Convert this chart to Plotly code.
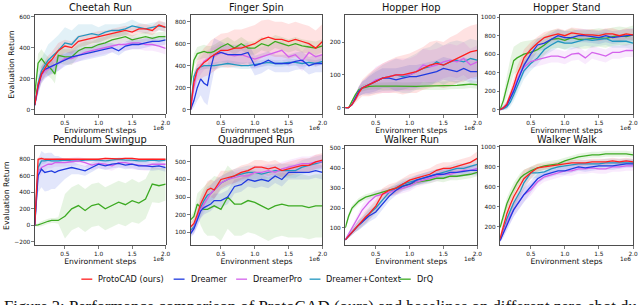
import plotly.graph_objects as go

# ---------------- data ----------------
steps = [0.05, 0.1, 0.15, 0.2, 0.25, 0.3, 0.35, 0.4, 0.5, 0.6, 0.7, 0.8, 0.9, 1.0,
         1.1, 1.2, 1.3, 1.4, 1.5, 1.6, 1.7, 1.8, 1.9, 2.0]
x_ticks = [0.5, 1.0, 1.5, 2.0]
x_tick_labels = ["0.5", "1.0", "1.5", "2.0"]

methods = ["ProtoCAD (ours)", "Dreamer", "DreamerPro", "Dreamer+Context", "DrQ"]
task_names = ["Cheetah Run", "Finger Spin", "Hopper Hop", "Hopper Stand",
              "Pendulum Swingup", "Quadruped Run", "Walker Run", "Walker Walk"]

# Cheetah Run
cheetah_protocad = [30,160,230,270,300,320,350,380,410,400,440,450,460,470,480,490,500,510,500,520,520,510,545,530]
cheetah_dreamer = [30,150,230,260,270,280,290,300,320,340,350,360,370,380,390,400,380,410,420,420,430,440,440,450]
cheetah_dreamerpro = [30,140,220,250,265,280,290,300,330,330,350,370,380,390,400,410,420,420,430,430,420,420,410,395]
cheetah_context = [30,170,250,290,320,340,360,380,430,420,470,480,490,480,500,510,510,520,540,530,520,530,540,530]
cheetah_drq = [100,300,330,300,280,260,230,350,340,340,380,400,400,420,430,450,460,470,450,460,470,460,470,470]
cheetah_protocad_sd = [10,40,50,50,50,50,50,50,40,40,40,35,35,35,30,30,30,30,30,30,30,30,30,30]
cheetah_dreamer_sd = [10,40,50,50,50,50,50,50,40,40,40,40,40,40,40,30,30,30,30,30,30,30,30,30]
cheetah_dreamerpro_sd = [10,40,50,50,50,50,50,50,40,40,40,40,40,40,40,40,40,40,40,40,40,40,40,40]
cheetah_context_sd = [10,60,80,90,100,100,100,100,100,90,80,70,60,50,50,40,40,40,40,30,30,30,30,30]
cheetah_drq_sd = [30,60,60,60,60,60,60,50,50,50,40,40,40,40,40,40,40,30,30,30,30,30,30,30]

# Finger Spin
finger_protocad = [0,250,360,400,430,450,480,500,540,540,560,560,580,600,640,660,640,640,620,640,620,600,560,620]
finger_dreamer = [0,80,200,280,240,220,380,500,520,500,500,500,520,400,420,450,420,420,420,440,450,400,420,420]
finger_dreamerpro = [0,200,350,400,440,460,480,490,520,500,490,500,480,460,480,500,520,540,480,500,440,520,480,500]
finger_context = [0,300,370,390,400,400,400,400,410,420,410,400,400,410,420,430,420,420,430,430,420,430,420,440]
finger_drq = [220,450,510,520,530,520,520,530,570,600,560,600,560,560,600,580,620,600,580,600,580,570,560,580]
finger_protocad_sd = [10,80,100,120,130,140,150,150,150,160,170,170,170,170,170,160,160,160,160,160,160,160,160,160]
finger_dreamer_sd = [10,60,120,150,170,180,180,150,100,90,90,90,90,90,90,80,80,80,80,80,80,80,80,80]
finger_dreamerpro_sd = [10,60,80,80,80,80,80,80,80,80,80,80,90,90,90,90,90,90,90,90,90,90,90,90]
finger_context_sd = [10,40,40,30,30,30,30,30,30,30,30,30,30,30,30,30,30,30,30,30,30,30,30,30]
finger_drq_sd = [40,60,60,60,60,60,60,60,60,60,60,60,60,60,60,60,60,60,60,60,60,60,60,60]

# Hopper Hop
hop_protocad = [0,0,10,25,45,60,65,70,80,90,95,100,100,105,110,120,130,135,130,140,150,160,170,175]
hop_dreamer = [0,0,10,30,50,60,65,70,80,90,90,85,90,95,95,100,105,110,120,115,110,120,110,110]
hop_dreamerpro = [0,0,10,30,50,60,65,70,85,90,95,100,100,100,110,130,125,130,140,145,140,150,130,140]
hop_context = [0,0,10,30,50,60,65,70,80,90,95,100,95,100,110,120,125,140,130,140,145,140,150,145]
hop_drq = [0,0,20,40,55,60,62,65,66,65,66,66,65,66,65,66,66,67,66,68,68,70,72,70]
hop_protocad_sd = [0,0,5,10,20,25,30,35,40,45,50,55,60,60,65,65,70,70,70,75,75,80,80,80]
hop_dreamer_sd = [0,0,5,10,15,20,20,25,30,30,30,35,35,35,35,35,35,35,35,35,35,35,35,35]
hop_dreamerpro_sd = [0,0,5,10,15,20,25,30,40,45,50,50,50,50,50,50,50,50,50,50,50,50,50,50]
hop_context_sd = [0,0,5,10,15,20,25,30,35,40,45,50,50,55,55,60,60,60,60,60,60,60,60,60]
hop_drq_sd = [0,0,5,5,8,10,10,10,10,12,12,12,12,12,12,12,12,12,12,12,12,12,12,12]

# Hopper Stand
stand_protocad = [0,20,60,150,260,380,460,560,650,720,780,800,820,800,830,820,810,810,800,820,820,800,820,810]
stand_dreamer = [0,20,50,120,200,300,400,480,600,700,720,760,800,780,780,800,800,790,780,800,780,790,800,810]
stand_dreamerpro = [0,20,60,140,220,320,400,460,520,540,560,580,580,560,600,610,560,620,600,580,620,620,640,640]
stand_context = [0,10,30,80,160,250,350,420,500,560,650,700,740,720,720,740,760,750,760,770,740,740,740,720]
stand_drq = [0,100,250,400,530,560,580,600,620,650,700,760,770,750,780,760,760,770,780,770,790,800,790,810]
stand_protocad_sd = [10,20,40,60,80,90,90,90,80,70,60,60,60,60,60,60,60,60,60,60,60,60,60,60]
stand_dreamer_sd = [10,20,40,60,80,90,90,90,80,70,70,70,70,70,70,70,70,70,70,70,70,70,70,70]
stand_dreamerpro_sd = [10,20,40,60,70,70,70,70,70,70,70,70,70,70,70,70,70,70,70,70,70,70,70,70]
stand_context_sd = [10,15,30,50,70,80,90,90,80,70,70,70,70,70,70,70,70,70,70,70,70,70,70,70]
stand_drq_sd = [10,60,120,150,150,150,150,140,130,120,110,100,100,100,100,100,100,100,100,100,100,100,100,100]

# Pendulum Swingup
pend_protocad = [0,800,810,800,800,800,805,805,805,800,800,800,800,800,810,805,805,810,810,800,800,800,800,800]
pend_dreamer = [0,600,680,640,650,660,640,660,680,700,680,660,700,740,720,740,750,730,740,720,720,710,720,700]
pend_dreamerpro = [0,650,700,720,740,740,760,760,760,770,780,760,730,750,740,720,760,760,740,730,720,740,740,740]
pend_context = [0,700,780,780,790,780,780,780,790,780,780,790,790,790,780,790,800,790,790,780,780,790,780,790]
pend_drq = [0,5,20,40,50,60,60,60,110,200,240,180,240,260,200,240,280,250,300,270,320,500,480,500]
pend_protocad_sd = [10,20,15,15,10,10,10,10,10,10,10,10,10,10,10,10,10,10,10,10,10,10,10,10]
pend_dreamer_sd = [10,200,220,230,230,220,200,180,120,80,60,60,60,50,50,50,50,50,50,50,50,50,50,50]
pend_dreamerpro_sd = [10,100,80,60,50,50,50,50,50,50,50,50,60,60,60,60,60,60,60,60,60,60,60,60]
pend_context_sd = [10,60,40,30,20,20,20,20,20,20,20,20,20,20,20,20,20,20,20,20,20,20,20,20]
pend_drq_sd = [10,20,30,30,30,30,30,40,270,260,260,260,260,260,260,260,260,260,260,250,240,220,210,200]

# Quadruped Run
quad_protocad = [130,150,200,260,300,340,350,340,400,410,420,440,450,470,470,460,470,450,460,470,480,480,500,510]
quad_dreamer = [90,120,170,220,240,250,260,280,280,300,360,370,400,390,400,390,420,400,440,440,440,440,450,440]
quad_dreamerpro = [100,120,180,230,260,290,320,340,380,400,410,420,420,440,440,450,440,460,470,480,490,490,500,500]
quad_context = [110,130,180,240,280,310,320,340,380,400,420,430,440,440,430,440,450,450,450,450,470,480,490,500]
quad_drq = [170,190,260,240,230,230,240,250,230,300,260,260,280,270,250,230,250,260,250,250,250,240,250,250]
quad_protocad_sd = [20,30,40,50,50,50,50,50,50,40,40,40,40,40,40,40,40,40,40,40,40,40,40,40]
quad_dreamer_sd = [20,30,40,40,40,40,40,40,40,40,40,40,40,40,40,40,40,40,40,40,40,40,40,40]
quad_dreamerpro_sd = [20,30,40,50,50,50,50,50,40,40,40,40,40,40,40,40,40,40,40,40,40,40,40,40]
quad_context_sd = [20,30,40,50,50,50,50,50,40,40,40,40,40,40,40,40,40,40,40,40,40,40,40,40]
quad_drq_sd = [20,30,60,100,130,150,160,170,180,180,180,180,180,180,180,180,180,180,180,180,180,180,180,180]

# Walker Run
wrun_protocad = [40,60,80,100,120,140,155,170,210,270,290,300,320,340,350,360,370,390,400,400,410,420,430,450]
wrun_dreamer = [40,60,80,100,115,130,145,160,180,220,260,290,310,320,340,350,360,370,370,380,380,385,390,390]
wrun_dreamerpro = [40,70,100,130,160,190,210,230,260,270,280,290,300,310,330,340,350,360,370,370,380,390,390,400]
wrun_context = [40,60,80,100,115,130,150,170,200,240,280,300,320,330,340,350,360,370,380,390,400,400,410,420]
wrun_drq = [100,160,200,220,235,245,255,260,270,280,290,300,310,320,330,335,340,350,350,360,360,365,370,380]
wrun_protocad_sd = [5,10,15,20,25,25,30,30,30,30,30,30,30,30,30,30,30,30,30,30,30,30,30,35]
wrun_dreamer_sd = [5,10,15,20,25,25,30,30,30,25,25,25,25,25,25,25,25,25,25,25,25,25,25,25]
wrun_dreamerpro_sd = [5,10,15,20,25,25,30,30,30,25,25,25,25,25,25,25,25,25,25,25,25,25,25,25]
wrun_context_sd = [5,10,15,20,25,25,30,30,30,25,25,25,25,25,25,25,25,25,25,25,25,25,25,25]
wrun_drq_sd = [10,15,15,15,15,15,15,15,15,15,15,15,15,15,15,15,15,15,20,20,20,20,20,20]

# Walker Walk
wwalk_protocad = [80,220,330,420,500,560,620,680,740,790,800,810,820,830,840,840,840,850,850,850,860,850,860,850]
wwalk_dreamer = [60,140,220,300,370,420,470,520,600,680,720,740,760,760,780,800,790,800,810,810,810,820,830,830]
wwalk_dreamerpro = [60,160,240,310,370,420,470,520,570,650,700,720,740,760,760,780,780,790,780,780,800,800,810,810]
wwalk_context = [60,180,280,360,440,500,560,640,740,740,750,780,800,810,820,830,830,830,830,840,840,840,840,840]
wwalk_drq = [190,320,430,510,580,640,690,720,760,790,810,820,830,860,880,900,910,920,920,930,930,930,930,920]
wwalk_protocad_sd = [30,60,80,90,100,100,100,90,60,40,30,30,30,30,30,30,30,30,30,30,30,30,30,30]
wwalk_dreamer_sd = [20,50,60,70,70,70,70,70,60,50,40,40,40,40,40,40,40,40,40,40,40,40,40,40]
wwalk_dreamerpro_sd = [20,50,60,70,70,70,70,70,60,50,50,50,50,50,50,50,50,50,50,50,50,50,50,50]
wwalk_context_sd = [20,50,60,70,70,70,70,70,60,50,40,40,40,40,40,40,40,40,40,40,40,40,40,40]
wwalk_drq_sd = [30,50,60,60,60,50,50,50,40,40,40,40,40,30,30,30,30,30,30,30,30,30,30,30]

means = [
    [cheetah_protocad, cheetah_dreamer, cheetah_dreamerpro, cheetah_context, cheetah_drq],
    [finger_protocad, finger_dreamer, finger_dreamerpro, finger_context, finger_drq],
    [hop_protocad, hop_dreamer, hop_dreamerpro, hop_context, hop_drq],
    [stand_protocad, stand_dreamer, stand_dreamerpro, stand_context, stand_drq],
    [pend_protocad, pend_dreamer, pend_dreamerpro, pend_context, pend_drq],
    [quad_protocad, quad_dreamer, quad_dreamerpro, quad_context, quad_drq],
    [wrun_protocad, wrun_dreamer, wrun_dreamerpro, wrun_context, wrun_drq],
    [wwalk_protocad, wwalk_dreamer, wwalk_dreamerpro, wwalk_context, wwalk_drq],
]
sds = [
    [cheetah_protocad_sd, cheetah_dreamer_sd, cheetah_dreamerpro_sd, cheetah_context_sd, cheetah_drq_sd],
    [finger_protocad_sd, finger_dreamer_sd, finger_dreamerpro_sd, finger_context_sd, finger_drq_sd],
    [hop_protocad_sd, hop_dreamer_sd, hop_dreamerpro_sd, hop_context_sd, hop_drq_sd],
    [stand_protocad_sd, stand_dreamer_sd, stand_dreamerpro_sd, stand_context_sd, stand_drq_sd],
    [pend_protocad_sd, pend_dreamer_sd, pend_dreamerpro_sd, pend_context_sd, pend_drq_sd],
    [quad_protocad_sd, quad_dreamer_sd, quad_dreamerpro_sd, quad_context_sd, quad_drq_sd],
    [wrun_protocad_sd, wrun_dreamer_sd, wrun_dreamerpro_sd, wrun_context_sd, wrun_drq_sd],
    [wwalk_protocad_sd, wwalk_dreamer_sd, wwalk_dreamerpro_sd, wwalk_context_sd, wwalk_drq_sd],
]

# ---------------- style / layout ----------------
W, H = 640, 305
colors = ["#ff1f1f", "#1f3ae0", "#d462ec", "#2196c0", "#3caa22"]
fills = ["rgba(255,31,31,0.13)", "rgba(31,58,224,0.13)", "rgba(212,98,236,0.13)",
         "rgba(33,150,192,0.13)", "rgba(60,170,34,0.13)"]
y_ranges = [[-28, 610], [-42, 862], [-20, 283], [-50, 1025],
            [-242, 960], [25, 590], [12, 512], [12, 1008]]
y_dticks = [200, 200, 100, 200, 200, 100, 100, 200]
col_px = [(35, 167), (192, 325), (348, 481), (504, 638)]
row_px = [(13, 113), (145, 245)]
draw_order = [4, 3, 2, 1, 0]

FONT = "DejaVu Sans"
fig = go.Figure()
annotations = []
layout = {}

for p in range(8):
    r, c = divmod(p, 4)
    xa = "x" if p == 0 else f"x{p+1}"
    ya = "y" if p == 0 else f"y{p+1}"
    for m in draw_order:
        mu = means[p][m]
        sd = sds[p][m]
        upper = [a + b for a, b in zip(mu, sd)]
        lower = [a - b for a, b in zip(mu, sd)]
        fig.add_trace(go.Scatter(x=steps, y=upper, xaxis=xa, yaxis=ya, mode="lines",
                                 line=dict(width=0), showlegend=False, hoverinfo="skip"))
        fig.add_trace(go.Scatter(x=steps, y=lower, xaxis=xa, yaxis=ya, mode="lines",
                                 line=dict(width=0), fill="tonexty", fillcolor=fills[m],
                                 showlegend=False, hoverinfo="skip"))
    for m in draw_order:
        fig.add_trace(go.Scatter(x=steps, y=means[p][m], xaxis=xa, yaxis=ya, mode="lines",
                                 line=dict(color=colors[m], width=1.3), name=methods[m],
                                 showlegend=False))

    x0, x1 = col_px[c]
    y0, y1 = row_px[r]
    xkey = "xaxis" if p == 0 else f"xaxis{p+1}"
    ykey = "yaxis" if p == 0 else f"yaxis{p+1}"
    axis_common = dict(showline=True, mirror=True, linecolor="#222", linewidth=0.8,
                       ticks="outside", ticklen=2.5, tickwidth=0.6, tickcolor="#222",
                       showgrid=False, zeroline=False,
                       tickfont=dict(family=FONT, size=5.8, color="#111"))
    layout[xkey] = dict(axis_common, domain=[x0 / W, x1 / W], anchor=ya,
                        range=[0.05, 2.0], tickvals=x_ticks, ticktext=x_tick_labels,
                        title=dict(text="Environment steps", standoff=1,
                                   font=dict(family=FONT, size=7.7, color="#111")))
    layout[ykey] = dict(axis_common, domain=[1 - y1 / H, 1 - y0 / H], anchor=xa,
                        range=y_ranges[p], dtick=y_dticks[p], tick0=0)
    if c == 0:
        layout[ykey]["title"] = dict(text="Evaluation Return", standoff=3,
                                     font=dict(family=FONT, size=7.7, color="#111"))
    annotations.append(dict(text=task_names[p], xref=f"{xa} domain", yref=f"{ya} domain",
                            x=0.5, y=1, yshift=7, xanchor="center", yanchor="middle",
                            showarrow=False, font=dict(family=FONT, size=9.8, color="#111")))
    annotations.append(dict(text="1e6", xref=f"{xa} domain", yref=f"{ya} domain",
                            x=1, y=0, yshift=-14, xanchor="right", yanchor="middle",
                            showarrow=False, font=dict(family=FONT, size=5.8, color="#111")))

# manual legend
legend_y = 279
legend_items_x = [82, 175, 238, 312, 403]
shapes = []
for m in range(5):
    lx = legend_items_x[m]
    shapes.append(dict(type="line", xref="paper", yref="paper",
                       x0=lx / W, x1=(lx + 11) / W, y0=1 - legend_y / H, y1=1 - legend_y / H,
                       line=dict(color=colors[m], width=1.3)))
    annotations.append(dict(text=methods[m], xref="paper", yref="paper",
                            x=(lx + 15) / W, y=1 - legend_y / H, xanchor="left", yanchor="middle",
                            showarrow=False, font=dict(family=FONT, size=8.2, color="#111")))

# caption (cut off at the bottom of the image)
annotations.append(dict(text="Figure 3: Performance comparison of ProtoCAD (ours) and baselines on different zero-shot du",
                        xref="paper", yref="paper", x=2 / W, y=1 - 295 / H,
                        xanchor="left", yanchor="top", showarrow=False,
                        font=dict(family="Liberation Serif", size=16.7, color="#111")))

fig.update_layout(width=W, height=H, margin=dict(l=0, r=0, t=0, b=0),
                  paper_bgcolor="white", plot_bgcolor="white", hovermode=False,
                  annotations=annotations, shapes=shapes, showlegend=False, **layout)
fig.write_html("out.html", config={"displayModeBar": False, "staticPlot": True},
               post_script="document.body.style.margin='0';document.body.style.overflow='hidden';")
